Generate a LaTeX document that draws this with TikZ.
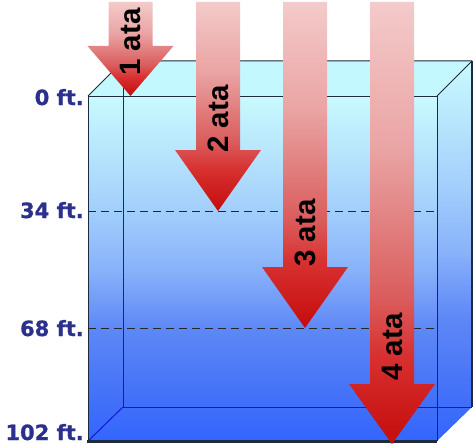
\documentclass[tikz,border=0pt]{standalone}
\usepackage{fontspec}
\newfontfamily\arialf{Liberation Sans Bold}
\newfontfamily\verdf{DejaVu Sans Bold}[FakeBold=0.8]
\definecolor{w0}{HTML}{3366FF}
\definecolor{w1}{HTML}{4270F8}
\definecolor{w2}{HTML}{5E88F6}
\definecolor{w3}{HTML}{88B2FA}
\definecolor{w4}{HTML}{A2CEFC}
\definecolor{w5}{HTML}{B8E6FC}
\definecolor{w6}{HTML}{C8FAFF}
\definecolor{a0}{HTML}{C40C0C}
\definecolor{a1}{HTML}{D83030}
\definecolor{a2}{HTML}{DA5C5C}
\definecolor{a3}{HTML}{EAA4A4}
\definecolor{a4}{HTML}{F4CACA}
\definecolor{topc}{HTML}{C4F8FF}
\definecolor{labblue}{HTML}{2B308C}
\definecolor{edgec}{HTML}{1E2A40}
\definecolor{backc}{HTML}{1414DC}
\pgfdeclareverticalshading{water}{100bp}{color(0bp)=(w0); color(25bp)=(w0); color(30.9bp)=(w1); color(41.4bp)=(w2); color(49.8bp)=(w3); color(58.3bp)=(w4); color(67.2bp)=(w5); color(75bp)=(w6); color(100bp)=(w6)}
\pgfdeclareverticalshading{redarrow}{100bp}{color(0bp)=(a0); color(25bp)=(a0); color(35bp)=(a1); color(41.5bp)=(a2); color(58.5bp)=(a3); color(75bp)=(a4); color(100bp)=(a4)}
\newcommand\ataarrow[4]{% center, shaft top, head top, tip
  \shade[shading=redarrow] (#1-22,#2) -- (#1+22,#2) -- (#1+22,#3) -- (#1+43,#3) -- (#1,#4) -- (#1-43,#3) -- (#1-22,#3) -- cycle;}
\begin{document}
\begin{tikzpicture}[x=1pt,y=-1pt,
  edge/.style={draw=edgec, line width=1pt},
  thickedge/.style={draw=edgec, line width=2.2pt},
  backedge/.style={draw=backc, line width=1pt},
  depthline/.style={draw=black!85, line width=1pt, dash pattern=on 8pt off 5pt},
  depthlab/.style={text=labblue, font=\verdf\fontsize{21}{21}\selectfont, inner sep=0pt, anchor=base east},
  atalab/.style={text=black, font=\arialf\fontsize{29.5}{29.5}\selectfont, inner sep=0pt, rotate=90}]
\useasboundingbox (0,0) rectangle (474,444);
% tank faces
\fill[topc] (88,96) -- (123,61) -- (472,61) -- (437,96) -- cycle;
\shade[shading=water] (437,96) -- (472,61) -- (472,407) -- (437,441) -- cycle;
\shade[shading=water] (88,96) rectangle (437,441);
% back edges seen through the water
\draw[backedge] (123,61) -- (123,407) -- (472,407);
\draw[backedge] (88,441) -- (123,407);
% depth lines
\draw[depthline] (88,211) -- (437,211);
\draw[depthline] (88,328) -- (437,328);
% front edges
\draw[edge] (88,441) -- (88,96) -- (437,96) -- (437,441);
\draw[edge] (88,96) -- (123,61) -- (472,61);
\draw[edge] (437,96) -- (472,61);
\draw[thickedge] (87,441.5) -- (437,441.5);
\draw[thickedge] (472,61) -- (472,407);
% arrows
\ataarrow{130.5}{2}{46}{96}
\ataarrow{218}{2}{150}{211}
\ataarrow{305}{2}{267}{328}
\ataarrow{392}{2}{384}{444}
\node[atalab] (t1) at (130.5,42) {1 ata};
\node[atalab] (t2) at (218,119) {2 ata};
\node[atalab] (t3) at (305,233) {3 ata};
\node[atalab] (t4) at (392,347) {4 ata};
% depth labels
\node[depthlab] (l0) at (84,105) {0 ft.};
\node[depthlab] (l34) at (84,218) {34 ft.};
\node[depthlab] (l68) at (84,336) {68 ft.};
\node[depthlab] (l102) at (84,440) {102 ft.};
\end{tikzpicture}
\end{document}
